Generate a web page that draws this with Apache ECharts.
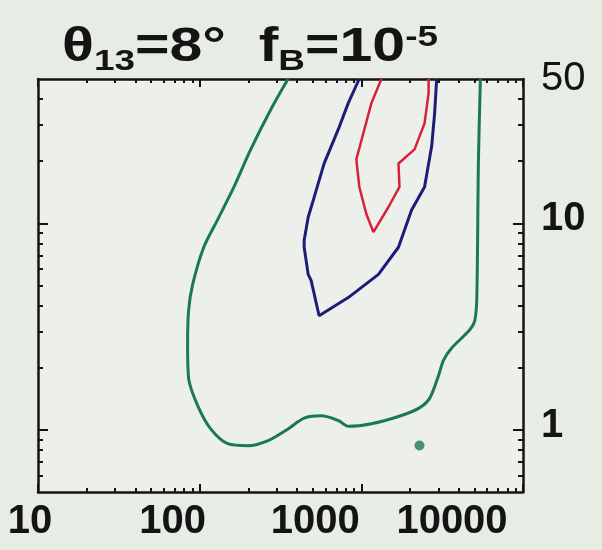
<!DOCTYPE html>
<html>
<head>
<meta charset="utf-8">
<script src="https://cdn.jsdelivr.net/npm/echarts@6/dist/echarts.min.js"></script>
<style>
  html, body { margin: 0; padding: 0; background: #e7ece4; }
  #chart { width: 602px; height: 550px; }
</style>
</head>
<body>
<div id="chart"></div>
<script>
// Allowed-region contours; both axes are logarithmic (x: 10..10000, y: 0.5..50).
const greenContour = [
  [352, 50], [276, 35.7], [207, 22.8], [163, 15.0], [129, 10.4], [106, 7.66],
  [90.5, 5.06], [85.4, 3.78], [84.2, 2.58], [85.4, 1.78], [97.2, 1.31],
  [117, 1.01], [149, 0.857], [199, 0.838], [265, 0.887], [352, 1.01],
  [443, 1.14], [564, 1.17], [720, 1.11], [830, 1.04], [1154, 1.07],
  [1697, 1.16], [2259, 1.27], [2645, 1.42], [3008, 1.84], [3231, 2.18],
  [3622, 2.49], [4688, 3.05], [5035, 3.38], [5180, 4.37], [5300, 20], [5450, 50]
];
const blueContour = [
  [970, 50], [830, 38.2], [720, 28.5], [589, 19.5], [564, 17.4], [511, 13.4],
  [469, 10.7], [443, 8.29], [443, 7.66], [469, 5.66], [489, 5.29], [548, 3.57],
  [830, 4.37], [1276, 5.66], [1697, 7.66], [2046, 11.6], [2460, 15.0],
  [2723, 23.6], [2840, 34.1], [2924, 50]
];
const redContour = [
  [1331, 50], [1154, 38.2], [1029, 27.3], [931, 20.4], [972, 15.0],
  [1074, 11.1], [1188, 9.07], [1472, 12.0], [1722, 15.0], [1697, 19.5],
  [2133, 22.8], [2460, 30.5], [2607, 42.7], [2607, 50]
];
const greenIsland = [[2290, 0.84]];

// Axis ticks and tick labels
const xMajorTicks = [10, 100, 1000, 10000];
const xMinorTicks = [20, 30, 40, 50, 60, 70, 80, 90,
                     200, 300, 400, 500, 600, 700, 800, 900,
                     2000, 3000, 4000, 5000, 6000, 7000, 8000, 9000];
const xTickLabels = ['10', '100', '1000', '10000'];
const yMajorTicks = [1, 10];
const yMinorTicks = [0.6, 0.7, 0.8, 0.9, 2, 3, 4, 5, 6, 7, 8, 9, 20, 30, 40];
const yLabelValues = [1, 10, 50];
const yTickLabels = ['1', '10', '50'];

const X_MIN = 10, X_MAX = 10000, Y_MIN = 0.5, Y_MAX = 50;

// Both axes are drawn in decades: values go through log10 before the value axes.
const lg = Math.log10;
const toLog = pts => pts.map(p => [lg(p[0]), lg(p[1])]);
const near = (a, b) => Math.abs(a - b) < 1e-6;

const ink = '#141414';
const labelFont = 'Liberation Sans';

// x labels sit a little left of their ticks
const xLabelShift = [16, 54, 92, 142];
const xRich = {};
xTickLabels.forEach((t, i) => {
  xRich['x' + i] = {
    fontSize: 40, fontWeight: 'bold', fontFamily: labelFont, color: ink,
    padding: [0, xLabelShift[i], 0, 0]
  };
});

function xAxisDef(position, values, len, withLine, withLabel) {
  return {
    type: 'value', gridIndex: 0, position: position,
    min: lg(X_MIN), max: lg(X_MAX),
    axisLine: { show: withLine, onZero: false, lineStyle: { color: ink, width: 2.5 } },
    axisTick: { show: true, inside: true, length: len, customValues: values.map(lg),
                lineStyle: { color: ink, width: 2 } },
    axisLabel: withLabel ? {
      show: true, margin: 10, customValues: xMajorTicks.map(lg),
      formatter: v => {
        const i = xMajorTicks.findIndex(t => near(lg(t), v));
        return i < 0 ? '' : '{x' + i + '|' + xTickLabels[i] + '}';
      },
      rich: xRich
    } : { show: false },
    splitLine: { show: false }
  };
}

function yAxisDef(position, values, len, withLine, withLabel) {
  return {
    type: 'value', gridIndex: 0, position: position,
    min: lg(Y_MIN), max: lg(Y_MAX),
    axisLine: { show: withLine, onZero: false, lineStyle: { color: ink, width: 2.5 } },
    axisTick: { show: true, inside: true, length: len, customValues: values.map(lg),
                lineStyle: { color: ink, width: 2 } },
    axisLabel: withLabel ? {
      show: true, margin: 18, customValues: yLabelValues.map(lg),
      formatter: v => {
        const i = yLabelValues.findIndex(t => near(lg(t), v));
        if (i < 0) return '';
        return (yTickLabels[i] === '50' ? '{n|' : '{b|') + yTickLabels[i] + '}';
      },
      rich: {
        b: { fontSize: 40, fontWeight: 'bold', fontFamily: labelFont, color: ink, padding: [0, 0, 8, 0] },
        n: { fontSize: 40, fontWeight: 'normal', fontFamily: labelFont, color: ink }
      }
    } : { show: false },
    splitLine: { show: false }
  };
}

const chart = echarts.init(document.getElementById('chart'), null, { renderer: 'canvas' });

const titleRich = {
  a: { fontSize: 48, fontWeight: 'bold', fontFamily: labelFont, fill: ink },
  s: { fontSize: 30, fontWeight: 'bold', fontFamily: labelFont, fill: ink, padding: [28, 0, 0, 0] },
  p: { fontSize: 30, fontWeight: 'bold', fontFamily: labelFont, fill: ink, padding: [0, 0, 20, 0] }
};

chart.setOption({
  animation: false,
  backgroundColor: '#e7ece4',
  graphic: [{
    type: 'text', left: 62, top: 23, scaleX: 1.23,
    style: {
      text: '{a|θ}{s|13}{a|=8°  f}{s|B}{a|=10}{p|-5}',
      rich: titleRich, fill: ink
    }
  }],
  grid: {
    left: 38, right: 79, top: 79, bottom: 58,
    show: true, backgroundColor: '#edf0ea', borderWidth: 0
  },
  xAxis: [
    xAxisDef('bottom', xMajorTicks, 8, true, true),
    xAxisDef('bottom', xMinorTicks, 4, false, false),
    xAxisDef('top', xMajorTicks, 8, true, false),
    xAxisDef('top', xMinorTicks, 4, false, false)
  ],
  yAxis: [
    yAxisDef('right', yMajorTicks, 10, true, true),
    yAxisDef('right', yMinorTicks, 5, false, false),
    yAxisDef('left', yMajorTicks, 10, true, false),
    yAxisDef('left', yMinorTicks, 5, false, false)
  ],
  series: [
    {
      type: 'line', xAxisIndex: 0, yAxisIndex: 0, data: toLog(greenContour),
      smooth: 0.3, showSymbol: false, clip: true,
      lineStyle: { color: '#1b7a4c', width: 3 }
    },
    {
      type: 'line', xAxisIndex: 0, yAxisIndex: 0, data: toLog(blueContour),
      showSymbol: false, clip: true,
      lineStyle: { color: '#1d1d78', width: 3 }
    },
    {
      type: 'line', xAxisIndex: 0, yAxisIndex: 0, data: toLog(redContour),
      showSymbol: false, clip: true,
      lineStyle: { color: '#d8203c', width: 2.5 }
    },
    {
      type: 'scatter', xAxisIndex: 0, yAxisIndex: 0, data: toLog(greenIsland),
      symbolSize: 10, itemStyle: { color: '#1b7a4c' }
    }
  ]
});
</script>
</body>
</html>
